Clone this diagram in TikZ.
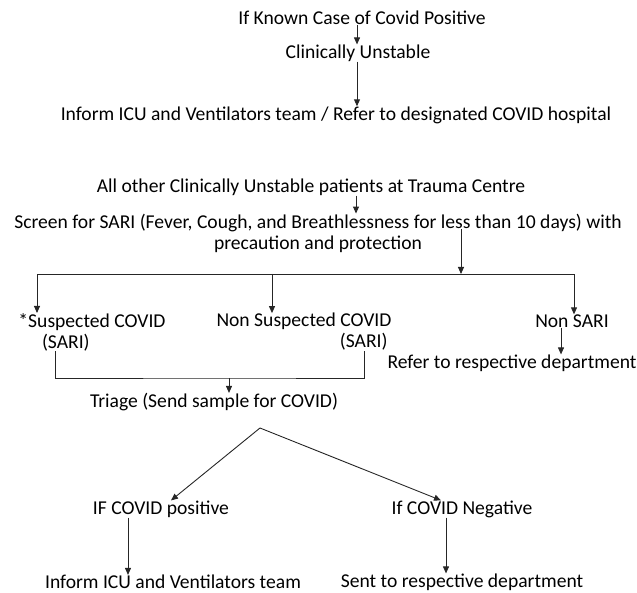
\documentclass[tikz,border=0pt]{standalone}
\usepackage{fontspec}
\setmainfont{Carlito}
\usetikzlibrary{arrows.meta}
\begin{document}
\begin{tikzpicture}[x=1pt, y=-1pt, txt/.style = {inner sep=0pt, font=\fontsize{19.6}{21}\selectfont, text=black}, arr/.style = {-{Triangle[length=7pt, width=6pt]}, line width=0.9pt, draw=black!85}]
      \useasboundingbox (0,0) rectangle (637,593);
      \node[txt] (known) at (362,18) {If Known Case of Covid Positive};
      \node[txt] (unst) at (358,53) {Clinically Unstable};
      \node[txt] (inform) at (336,115) {Inform ICU and Ventilators team / Refer to designated COVID hospital};
      \node[txt] (allother) at (311,187) {All other Clinically Unstable patients at Trauma Centre};
      \node[txt, align=center] (screen) at (318,233) {Screen for SARI (Fever, Cough, and Breathlessness for less than 10 days) with\\precaution and protection};
      \node[txt, align=left] (susp) at (92,332) {*Suspected COVID\\\hspace*{1.2em}(SARI)};
      \node[txt, align=right] (nsusp) at (304,332) {Non Suspected COVID\\(SARI)\hspace*{0.2em}};
      \node[txt] (nonsari) at (572,321) {Non SARI};
      \node[txt] (refer) at (512,363) {Refer to respective department};
      \node[txt] (triage) at (214,402) {Triage (Send sample for COVID)};
      \node[txt] (pos) at (161,509) {IF COVID positive};
      \node[txt] (neg) at (462,509) {If COVID Negative};
      \node[txt] (icu) at (173,582) {Inform ICU and Ventilators team};
      \node[txt] (dept) at (462,582) {Sent to respective department};
      \coordinate (br) at (461,274);
      \coordinate (join) at (229,378);
      \coordinate (fork) at (260,428);
      \draw[arr] (known.south -| 357,0) -- (unst.north -| 357,0);
      \draw[arr] (unst.south -| 357,0) -- (inform.north -| 357,0);
      \draw[arr] (allother.south -| 356,0) -- (screen.north -| 356,0);
      \draw[arr] ([yshift=4pt]screen.center -| br) -- (br);
      \draw[arr] (br) -| (susp.north -| 37,0);
      \draw[arr] (br) -| (nonsari.north -| 574,0);
      \draw[arr] (br -| 272,0) -- (nsusp.north -| 272,0);
      \draw[arr] (nonsari.south -| 561,0) -- (refer.north -| 561,0);
      \draw[arr, -] (susp.south -| 55,0) |- (join) -| (nsusp.south -| 364,0);
      \draw[arr] (join) -- (triage.north -| join);
      \draw[arr] (fork) -- (pos.north -| 171,0);
      \draw[arr] (fork) -- (neg.north -| 441,0);
      \draw[arr] (pos.south -| 128,0) -- (icu.north -| 128,0);
      \draw[arr] (neg.south -| 446,0) -- (dept.north -| 446,0);
    \end{tikzpicture}
\end{document}
